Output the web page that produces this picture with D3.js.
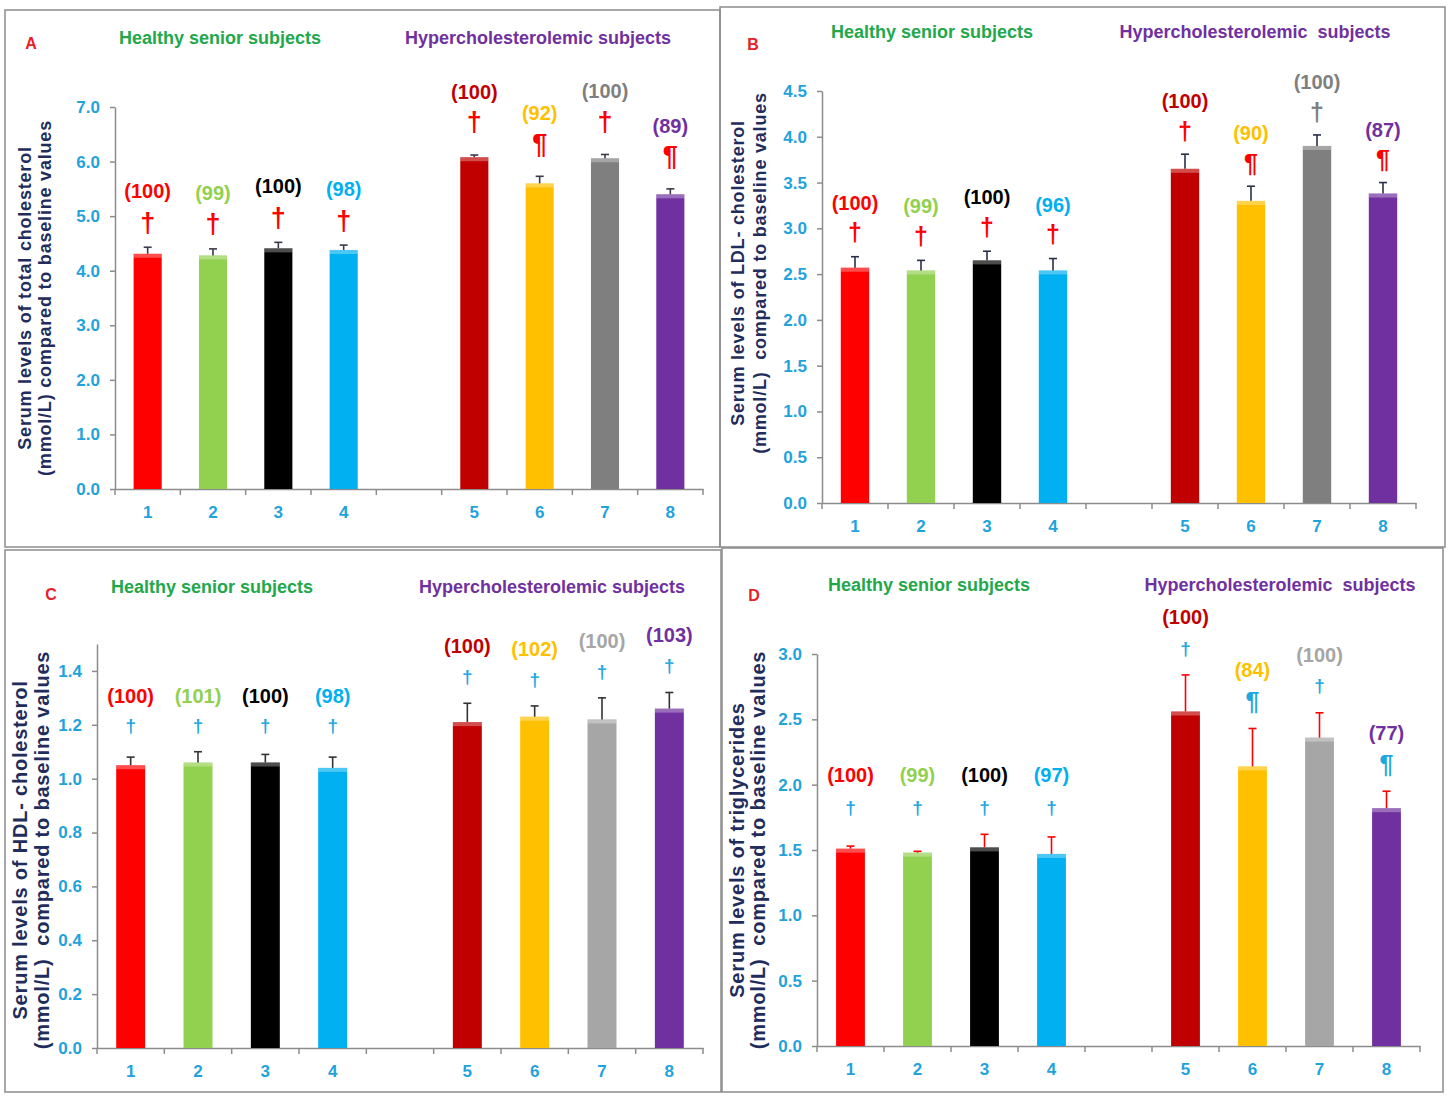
<!DOCTYPE html>
<html>
<head>
<meta charset="utf-8">
<title>Serum lipid levels</title>
<script src="https://d3js.org/d3.v7.min.js"></script>
<style>
    body { margin: 0; background: #fff; }
    svg text { font-family: Arial, "Liberation Sans", sans-serif; }
    .tick text { fill: #1fa3dc; font-weight: bold; font-size: 17px; }
    .pct { font-weight: bold; text-anchor: middle; }
    .sign { font-weight: bold; text-anchor: middle; }
</style>
</head>
<body>
<svg width="1449" height="1098"></svg>
<script>
// x slots, the empty one is the gap between the two groups
var slots = ["1", "2", "3", "4", "", "5", "6", "7", "8"];
var bars = ["1", "2", "3", "4", "5", "6", "7", "8"];
var groupTitles = ["Healthy senior subjects", "Hypercholesterolemic subjects"];

// A - total cholesterol
var tcMean = [4.31, 4.28, 4.41, 4.38, 6.08, 5.60, 6.06, 5.40];
var tcErr  = [0.12, 0.12, 0.11, 0.09, 0.04, 0.13, 0.07, 0.10];
var tcPct  = ["(100)", "(99)", "(100)", "(98)", "(100)", "(92)", "(100)", "(89)"];
var tcSign = ["†", "†", "†", "†", "†", "¶", "†", "¶"];

// B - LDL cholesterol
var ldlMean = [2.57, 2.54, 2.65, 2.54, 3.65, 3.30, 3.90, 3.38];
var ldlErr  = [0.12, 0.11, 0.10, 0.13, 0.16, 0.16, 0.12, 0.12];
var ldlPct  = ["(100)", "(99)", "(100)", "(96)", "(100)", "(90)", "(100)", "(87)"];
var ldlSign = ["†", "†", "†", "†", "†", "¶", "†", "¶"];

// C - HDL cholesterol
var hdlMean = [1.05, 1.06, 1.06, 1.04, 1.21, 1.23, 1.22, 1.26];
var hdlErr  = [0.03, 0.04, 0.03, 0.04, 0.07, 0.04, 0.08, 0.06];
var hdlPct  = ["(100)", "(101)", "(100)", "(98)", "(100)", "(102)", "(100)", "(103)"];
var hdlSign = ["†", "†", "†", "†", "†", "†", "†", "†"];

// D - triglycerides
var tgMean = [1.51, 1.48, 1.52, 1.47, 2.56, 2.14, 2.36, 1.82];
var tgErr  = [0.02, 0.01, 0.10, 0.13, 0.28, 0.29, 0.19, 0.13];
var tgPct  = ["(100)", "(99)", "(100)", "(97)", "(100)", "(84)", "(100)", "(77)"];
var tgSign = ["†", "†", "†", "†", "†", "¶", "†", "¶"];

var svg = d3.select("svg");

var darkGray = ["#ff0000", "#92d050", "#000000", "#00b0f0", "#c00000", "#ffc000", "#7f7f7f", "#7030a0"];
var lightGray = ["#ff0000", "#92d050", "#000000", "#00b0f0", "#c00000", "#ffc000", "#a6a6a6", "#7030a0"];
var allBlue = ["#1fa8e0", "#1fa8e0", "#1fa8e0", "#1fa8e0", "#1fa8e0", "#1fa8e0", "#1fa8e0", "#1fa8e0"];

// signOff/pctOff: [healthy, hyper] distance above the error bar top
var panels = [
    {letter: "A", box: [5, 10, 715, 537], letterAt: [31, 43], x0: 115, x1: 703, yr: [489, 107], yMax: 7, ticks: d3.range(0, 7.01, 1),
     titles: [[220, 38], [538, 38]], hyper: "Hypercholesterolemic subjects",
     ytitle: ["Serum levels of total cholesterol", "(mmol/L) compared to baseline values"], ytx: [25, 45], yty: 298, ytSize: 18,
     mean: tcMean, err: tcErr, pct: tcPct, sign: tcSign, colors: darkGray,
     signColors: ["red", "red", "red", "red", "red", "red", "red", "red"], signSize: 27, errColor: "#3a3a4a",
     signOff: [25, 33], pctOff: [56, 63], align: false},
    {letter: "B", box: [720, 7, 725, 540], letterAt: [753, 44], x0: 822, x1: 1416, yr: [503, 91], yMax: 4.5, ticks: d3.range(0, 4.51, 0.5),
     titles: [[932, 32], [1255, 32]], hyper: "Hypercholesterolemic  subjects",
     ytitle: ["Serum levels of LDL- cholesterol", "(mmol/L)  compared to baseline values"], ytx: [738, 760], yty: 273, ytSize: 18,
     mean: ldlMean, err: ldlErr, pct: ldlPct, sign: ldlSign, colors: darkGray,
     signColors: ["red", "red", "red", "red", "red", "red", "#7f7f7f", "red"], signSize: 25, errColor: "#2a2f4a",
     signOff: [24, 23], pctOff: [54, 53], align: false},
    {letter: "C", box: [5, 550, 716, 542], letterAt: [51, 594], x0: 97, x1: 703, yr: [1048, 644], yMax: 1.5, ticks: d3.range(0, 1.41, 0.2),
     titles: [[212, 587], [552, 587]], hyper: "Hypercholesterolemic subjects",
     ytitle: ["Serum levels of HDL- cholesterol", "(mmol/L)  compared to baseline values"], ytx: [20, 42], yty: 850, ytSize: 20,
     mean: hdlMean, err: hdlErr, pct: hdlPct, sign: hdlSign, colors: lightGray,
     signColors: allBlue, signSize: 19, errColor: "#333",
     signOff: [26, 27], pctOff: [56, 57], align: true},
    {letter: "D", box: [722, 548, 721, 544], letterAt: [754, 595], x0: 817, x1: 1420, yr: [1046, 654], yMax: 3, ticks: d3.range(0, 3.01, 0.5),
     titles: [[929, 585], [1280, 585]], hyper: "Hypercholesterolemic  subjects",
     ytitle: ["Serum levels of triglycerides", "(mmol/L)  compared to baseline values"], ytx: [737, 758], yty: 850, ytSize: 20,
     mean: tgMean, err: tgErr, pct: tgPct, sign: tgSign, colors: lightGray,
     signColors: allBlue, signSize: 19, errColor: "#ff0000",
     signOff: [27, 27], pctOff: [59, 58], align: true}
];

panels.forEach(drawPanel);

function drawPanel(p) {
    var g = svg.append("g");

    //frame
    g.append("rect")
        .attr("x", p.box[0]).attr("y", p.box[1])
        .attr("width", p.box[2]).attr("height", p.box[3])
        .attr("fill", "none").attr("stroke", "#8c8c8c").attr("stroke-width", 1.5);

    g.append("text").attr("x", p.letterAt[0]).attr("y", p.letterAt[1] + 6)
        .attr("text-anchor", "middle").attr("font-weight", "bold").attr("font-size", 16)
        .attr("fill", "#e8202a").text(p.letter);

    //group titles
    g.append("text").attr("x", p.titles[0][0]).attr("y", p.titles[0][1] + 6)
        .attr("text-anchor", "middle").attr("font-weight", "bold").attr("font-size", 18)
        .attr("fill", "#22a84a").text(groupTitles[0]);
    g.append("text").attr("x", p.titles[1][0]).attr("y", p.titles[1][1] + 6)
        .attr("text-anchor", "middle").attr("font-weight", "bold").attr("font-size", 18)
        .attr("fill", "#7030a0").style("white-space", "pre").text(p.hyper);

    var x = d3.scaleBand().domain(slots).range([p.x0, p.x1]);
    var y = d3.scaleLinear().domain([0, p.yMax]).range(p.yr);
    var bw = x.bandwidth() * 0.43;

    //y axis
    var ya = g.append("g").attr("transform", "translate(" + p.x0 + ",0)")
        .call(d3.axisLeft(y).tickValues(p.ticks).tickFormat(d3.format(".1f")).tickSize(5).tickSizeOuter(0).tickPadding(10));
    ya.select(".domain").attr("stroke", "#8c8c8c").attr("stroke-width", 1.5);
    ya.selectAll(".tick line").attr("stroke", "#8c8c8c").attr("stroke-width", 1.5);

    //x axis, labels centred under bars, ticks on slot edges
    var xa = g.append("g").attr("transform", "translate(0," + p.yr[0] + ")")
        .call(d3.axisBottom(x).tickSize(0).tickPadding(17).tickSizeOuter(0));
    xa.select(".domain").attr("stroke", "#8c8c8c").attr("stroke-width", 1.5);
    var edges = slots.map(function(s){ return x(s); }).concat([p.x1]);
    g.selectAll(".edge").data(edges).enter().append("line")
        .attr("x1", function(d){ return d; }).attr("x2", function(d){ return d; })
        .attr("y1", p.yr[0]).attr("y2", p.yr[0] + 6)
        .attr("stroke", "#8c8c8c").attr("stroke-width", 1.5);

    //y title
    p.ytitle.forEach(function(t, i) {
        g.append("text")
            .attr("transform", "translate(" + p.ytx[i] + "," + p.yty + ") rotate(-90)")
            .attr("dy", "0.35em")
            .attr("text-anchor", "middle").attr("font-weight", "bold")
            .attr("font-size", p.ytSize).attr("letter-spacing", 0.8)
            .attr("fill", "#1f2d5c").style("white-space", "pre").text(t);
    });

    var rows = bars.map(function(b, i) {
        return {key: b, mean: p.mean[i], err: p.err[i], pct: p.pct[i], sign: p.sign[i], i: i, grp: i < 4 ? 0 : 1};
    });

    //bars
    g.selectAll(".bar").data(rows).enter().append("rect")
        .attr("x", function(d){ return x(d.key) + x.bandwidth() / 2 - bw / 2; })
        .attr("y", function(d){ return y(d.mean); })
        .attr("width", bw)
        .attr("height", function(d){ return y(0) - y(d.mean); })
        .attr("fill", function(d){ return p.colors[d.i]; });
    //light top bevel
    g.selectAll(".bevel").data(rows).enter().append("rect")
        .attr("x", function(d){ return x(d.key) + x.bandwidth() / 2 - bw / 2; })
        .attr("y", function(d){ return y(d.mean); })
        .attr("width", bw).attr("height", 4)
        .attr("fill", "#fff").attr("opacity", 0.3);

    //error bars
    var eb = g.selectAll(".err").data(rows).enter().append("g").attr("stroke", p.errColor).attr("stroke-width", 1.6);
    eb.append("line")
        .attr("x1", function(d){ return x(d.key) + x.bandwidth() / 2; })
        .attr("x2", function(d){ return x(d.key) + x.bandwidth() / 2; })
        .attr("y1", function(d){ return y(d.mean); })
        .attr("y2", function(d){ return y(d.mean + d.err); });
    eb.append("line")
        .attr("x1", function(d){ return x(d.key) + x.bandwidth() / 2 - 4; })
        .attr("x2", function(d){ return x(d.key) + x.bandwidth() / 2 + 4; })
        .attr("y1", function(d){ return y(d.mean + d.err); })
        .attr("y2", function(d){ return y(d.mean + d.err); });

    //annotation anchor: top of error bar (healthy group aligned in C and D)
    var healthyTop = d3.min(rows.slice(0, 4), function(d){ return y(d.mean + d.err); });
    function anchor(d) {
        if (p.align && d.grp == 0) return healthyTop;
        return y(d.mean + d.err);
    }

    g.selectAll(".sign").data(rows).enter().append("text")
        .attr("class", "sign")
        .attr("x", function(d){ return x(d.key) + x.bandwidth() / 2; })
        .attr("y", function(d){ return anchor(d) - p.signOff[d.grp]; })
        .attr("dy", "0.35em")
        .attr("font-size", function(d){ return d.sign == "¶" ? Math.max(p.signSize, 25) : p.signSize; })
        .attr("fill", function(d){ return p.signColors[d.i]; })
        .text(function(d){ return d.sign; });

    g.selectAll(".pct").data(rows).enter().append("text")
        .attr("class", "pct")
        .attr("x", function(d){ return x(d.key) + x.bandwidth() / 2; })
        .attr("y", function(d){ return anchor(d) - p.pctOff[d.grp]; })
        .attr("dy", "0.35em")
        .attr("font-size", 20)
        .attr("fill", function(d){ return p.colors[d.i]; })
        .text(function(d){ return d.pct; });
}
</script>
</body>
</html>
